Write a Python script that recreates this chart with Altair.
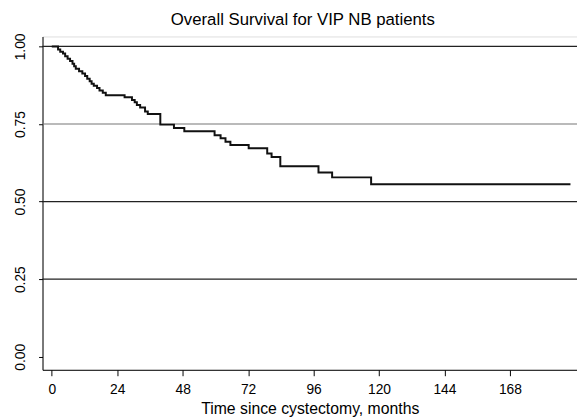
import altair as alt
import pandas as pd

# Kaplan-Meier estimate: (month, survival after the step)
months = [0, 2.3, 3.1, 4.1, 4.9, 5.8, 6.7, 7.6, 8.2, 8.8, 10.0, 11.2, 12.2, 13.0,
          13.9, 14.6, 15.4, 16.6, 17.5, 18.7, 19.8, 26.7, 29.4, 30.4, 31.2, 32.4,
          34.2, 35.2, 39.8, 44.8, 48.6, 59.7, 61.9, 63.7, 65.5, 72.2, 79.0, 80.6,
          83.8, 97.8, 102.8, 117.1, 190.2]
survival = [1.0, 0.99, 0.983, 0.977, 0.968, 0.96, 0.953, 0.944, 0.936, 0.928, 0.92,
            0.913, 0.905, 0.896, 0.888, 0.88, 0.873, 0.866, 0.858, 0.851, 0.843,
            0.836, 0.827, 0.82, 0.811, 0.803, 0.79, 0.782, 0.748, 0.737, 0.727,
            0.714, 0.704, 0.693, 0.682, 0.672, 0.655, 0.644, 0.614, 0.594, 0.578,
            0.556, 0.556]

x_ticks = [0, 24, 48, 72, 96, 120, 144, 168]
y_ticks = [0.0, 0.25, 0.5, 0.75, 1.0]
grid_levels = [0.25, 0.5, 0.75, 1.0]
grid_colors = ["#222222", "#222222", "#777777", "#222222"]

km = pd.DataFrame({"month": months, "surv": survival})
grid = pd.DataFrame({"level": grid_levels, "col": grid_colors})

FONT = "Liberation Sans"
xscale = alt.Scale(domain=[-3.4, 192.6], nice=False, zero=False)
yscale = alt.Scale(domain=[-0.042, 1.032], nice=False, zero=False)

xaxis = alt.Axis(values=x_ticks, title="Time since cystectomy, months", grid=False,
                 domainColor="black", tickColor="black", tickSize=6,
                 labelFont=FONT, labelFontSize=14, labelColor="black", labelPadding=7,
                 titleFont=FONT, titleFontSize=16, titleFontWeight="normal",
                 titleColor="black", titlePadding=4, labelFlush=False)
yaxis = alt.Axis(values=y_ticks, format=".2f", title=None, grid=False,
                 domainColor="black", tickColor="black", tickSize=4,
                 labelFont=FONT, labelFontSize=14, labelColor="black",
                 labelAngle=270, labelAlign="center", labelBaseline="bottom",
                 labelPadding=11, labelFlush=False)

rules = alt.Chart(grid).mark_rule(strokeWidth=1.2).encode(
    y=alt.Y("level:Q", scale=yscale, axis=yaxis),
    color=alt.Color("col:N", scale=None),
)

line = alt.Chart(km).mark_line(interpolate="step-after", color="#111111",
                               strokeWidth=2).encode(
    x=alt.X("month:Q", scale=xscale, axis=xaxis),
    y=alt.Y("surv:Q", scale=yscale, axis=yaxis),
)

chart = alt.layer(rules, line).properties(
    width=542,
    height=338,
    title=alt.TitleParams("Overall Survival for VIP NB patients", font=FONT,
                          fontSize=17, fontWeight="normal", color="black",
                          anchor="middle", dx=-7, offset=4),
    autosize=alt.AutoSizeParams(type="none"),
    padding={"left": 35, "top": 26, "right": 0, "bottom": 47},
).configure_view(stroke=None).configure(background="white")

chart.save("out.html", embed_options={"renderer": "svg", "actions": False})
